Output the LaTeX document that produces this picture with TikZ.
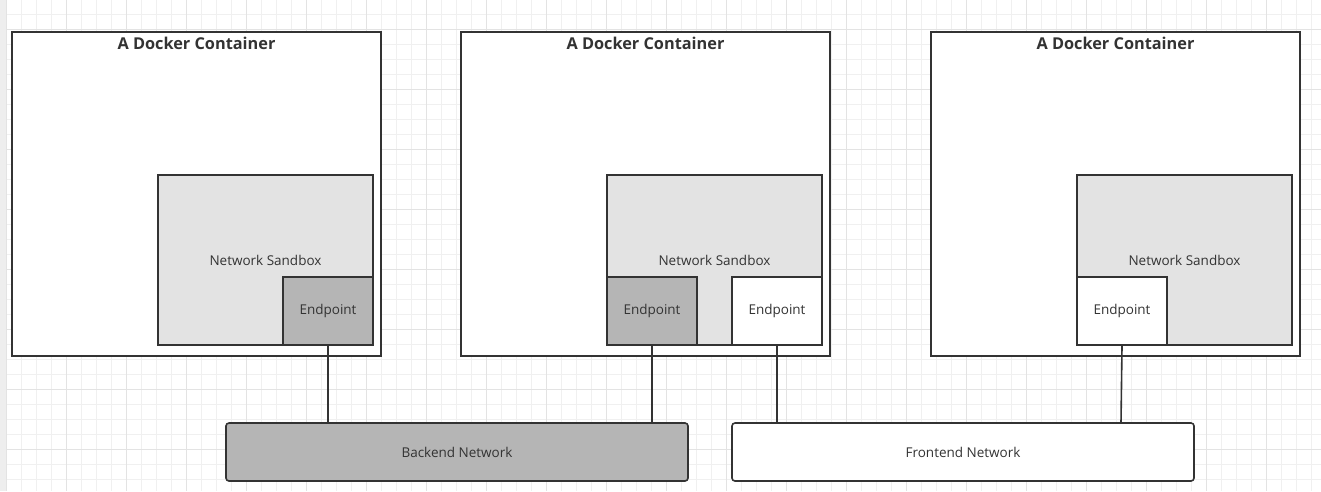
\documentclass[tikz,border=0pt]{standalone}
\usepackage{fontspec}
\setmainfont{Open Sans}
\usetikzlibrary{
  positioning,
}
\definecolor{border}{HTML}{333333}
\definecolor{fillSand}{HTML}{E3E3E3}
\definecolor{fillGray}{HTML}{B5B5B5}
\definecolor{textMain}{HTML}{333333}
\definecolor{gridMinor}{HTML}{F0F0F0}
\definecolor{gridMajor}{HTML}{E3E3E3}
\definecolor{sideBar}{HTML}{EEEEEE}
\tikzset{
  container/.style={
    rectangle, draw=border, fill=white, line width=1.6pt,
    minimum width=369pt, minimum height=324pt, inner sep=0pt,
  },
  ctitle/.style={font=\fontsize{16.3}{19}\selectfont\bfseries, text=textMain},
  sandbox/.style={
    rectangle, draw=border, fill=fillSand, line width=1.6pt,
    minimum width=215pt, minimum height=170pt, inner sep=0pt,
    font=\fontsize{13.5}{16}\selectfont, text=textMain,
  },
  endpoint/.style={
    sandbox, fill=white, minimum width=90pt, minimum height=68pt,
  },
  grayend/.style={endpoint, fill=fillGray},
  network/.style={
    rectangle, rounded corners=3pt, draw=border, fill=white, line width=1.6pt,
    minimum width=462pt, minimum height=58pt, inner sep=0pt,
    font=\fontsize{13.5}{16}\selectfont, text=textMain,
  },
  graynet/.style={network, fill=fillGray},
  wire/.style={draw=border, line width=1.6pt},
}

\begin{document}
\begin{tikzpicture}[x=1pt, y=-1pt]

  % Canvas
  \useasboundingbox (0,0) rectangle (1321,491);
  \fill[white] (0,0) rectangle (1321,491);
  \foreach \gx in {6,21,...,1320}
    \draw[gridMinor, line width=0.8pt] (\gx,0) -- (\gx,491);
  \foreach \gy in {14,29,...,490}
    \draw[gridMinor, line width=0.8pt] (0,\gy) -- (1321,\gy);
  \foreach \gx in {6,66,...,1320}
    \draw[gridMajor, line width=0.8pt] (\gx,0) -- (\gx,491);
  \foreach \gy in {29,89,...,490}
    \draw[gridMajor, line width=0.8pt] (0,\gy) -- (1321,\gy);
  \fill[sideBar] (0,0) rectangle (5.5,491);

  % Containers
  \node[container] (cont1) at (196.5, 194) {};
  \node[container] (cont2) at (645.5, 194) {};
  \node[container] (cont3) at (1115.5, 194) {};
  \node[ctitle] (title1) at (196.5, 43) {A Docker Container};
  \node[ctitle] (title2) at (645.5, 43) {A Docker Container};
  \node[ctitle] (title3) at (1115.5, 43) {A Docker Container};

  % Sandboxes
  \node[sandbox] (sand1) at (265.5, 260) {Network Sandbox};
  \node[sandbox] (sand2) at (714.5, 260) {Network Sandbox};
  \node[sandbox] (sand3) at (1184.5, 260) {Network Sandbox};

  % Endpoints
  \node[grayend] (ep1) at (328, 311) {Endpoint};
  \node[grayend] (ep2a) at (652, 311) {Endpoint};
  \node[endpoint] (ep2b) at (777, 311) {Endpoint};
  \node[endpoint] (ep3) at (1122, 311) {Endpoint};

  % Networks
  \node[graynet] (backnet) at (457, 452) {Backend Network};
  \node[network] (frontnet) at (963, 452) {Frontend Network};

  \draw[wire] (ep1.south) -- (ep1.south |- backnet.north);
  \draw[wire] (ep2a.south) -- (ep2a.south |- backnet.north);
  \draw[wire] (ep2b.south) -- (ep2b.south |- frontnet.north);
  \draw[wire] (ep3.south) -- ([xshift=-1pt]ep3.south |- frontnet.north);

\end{tikzpicture}
\end{document}
